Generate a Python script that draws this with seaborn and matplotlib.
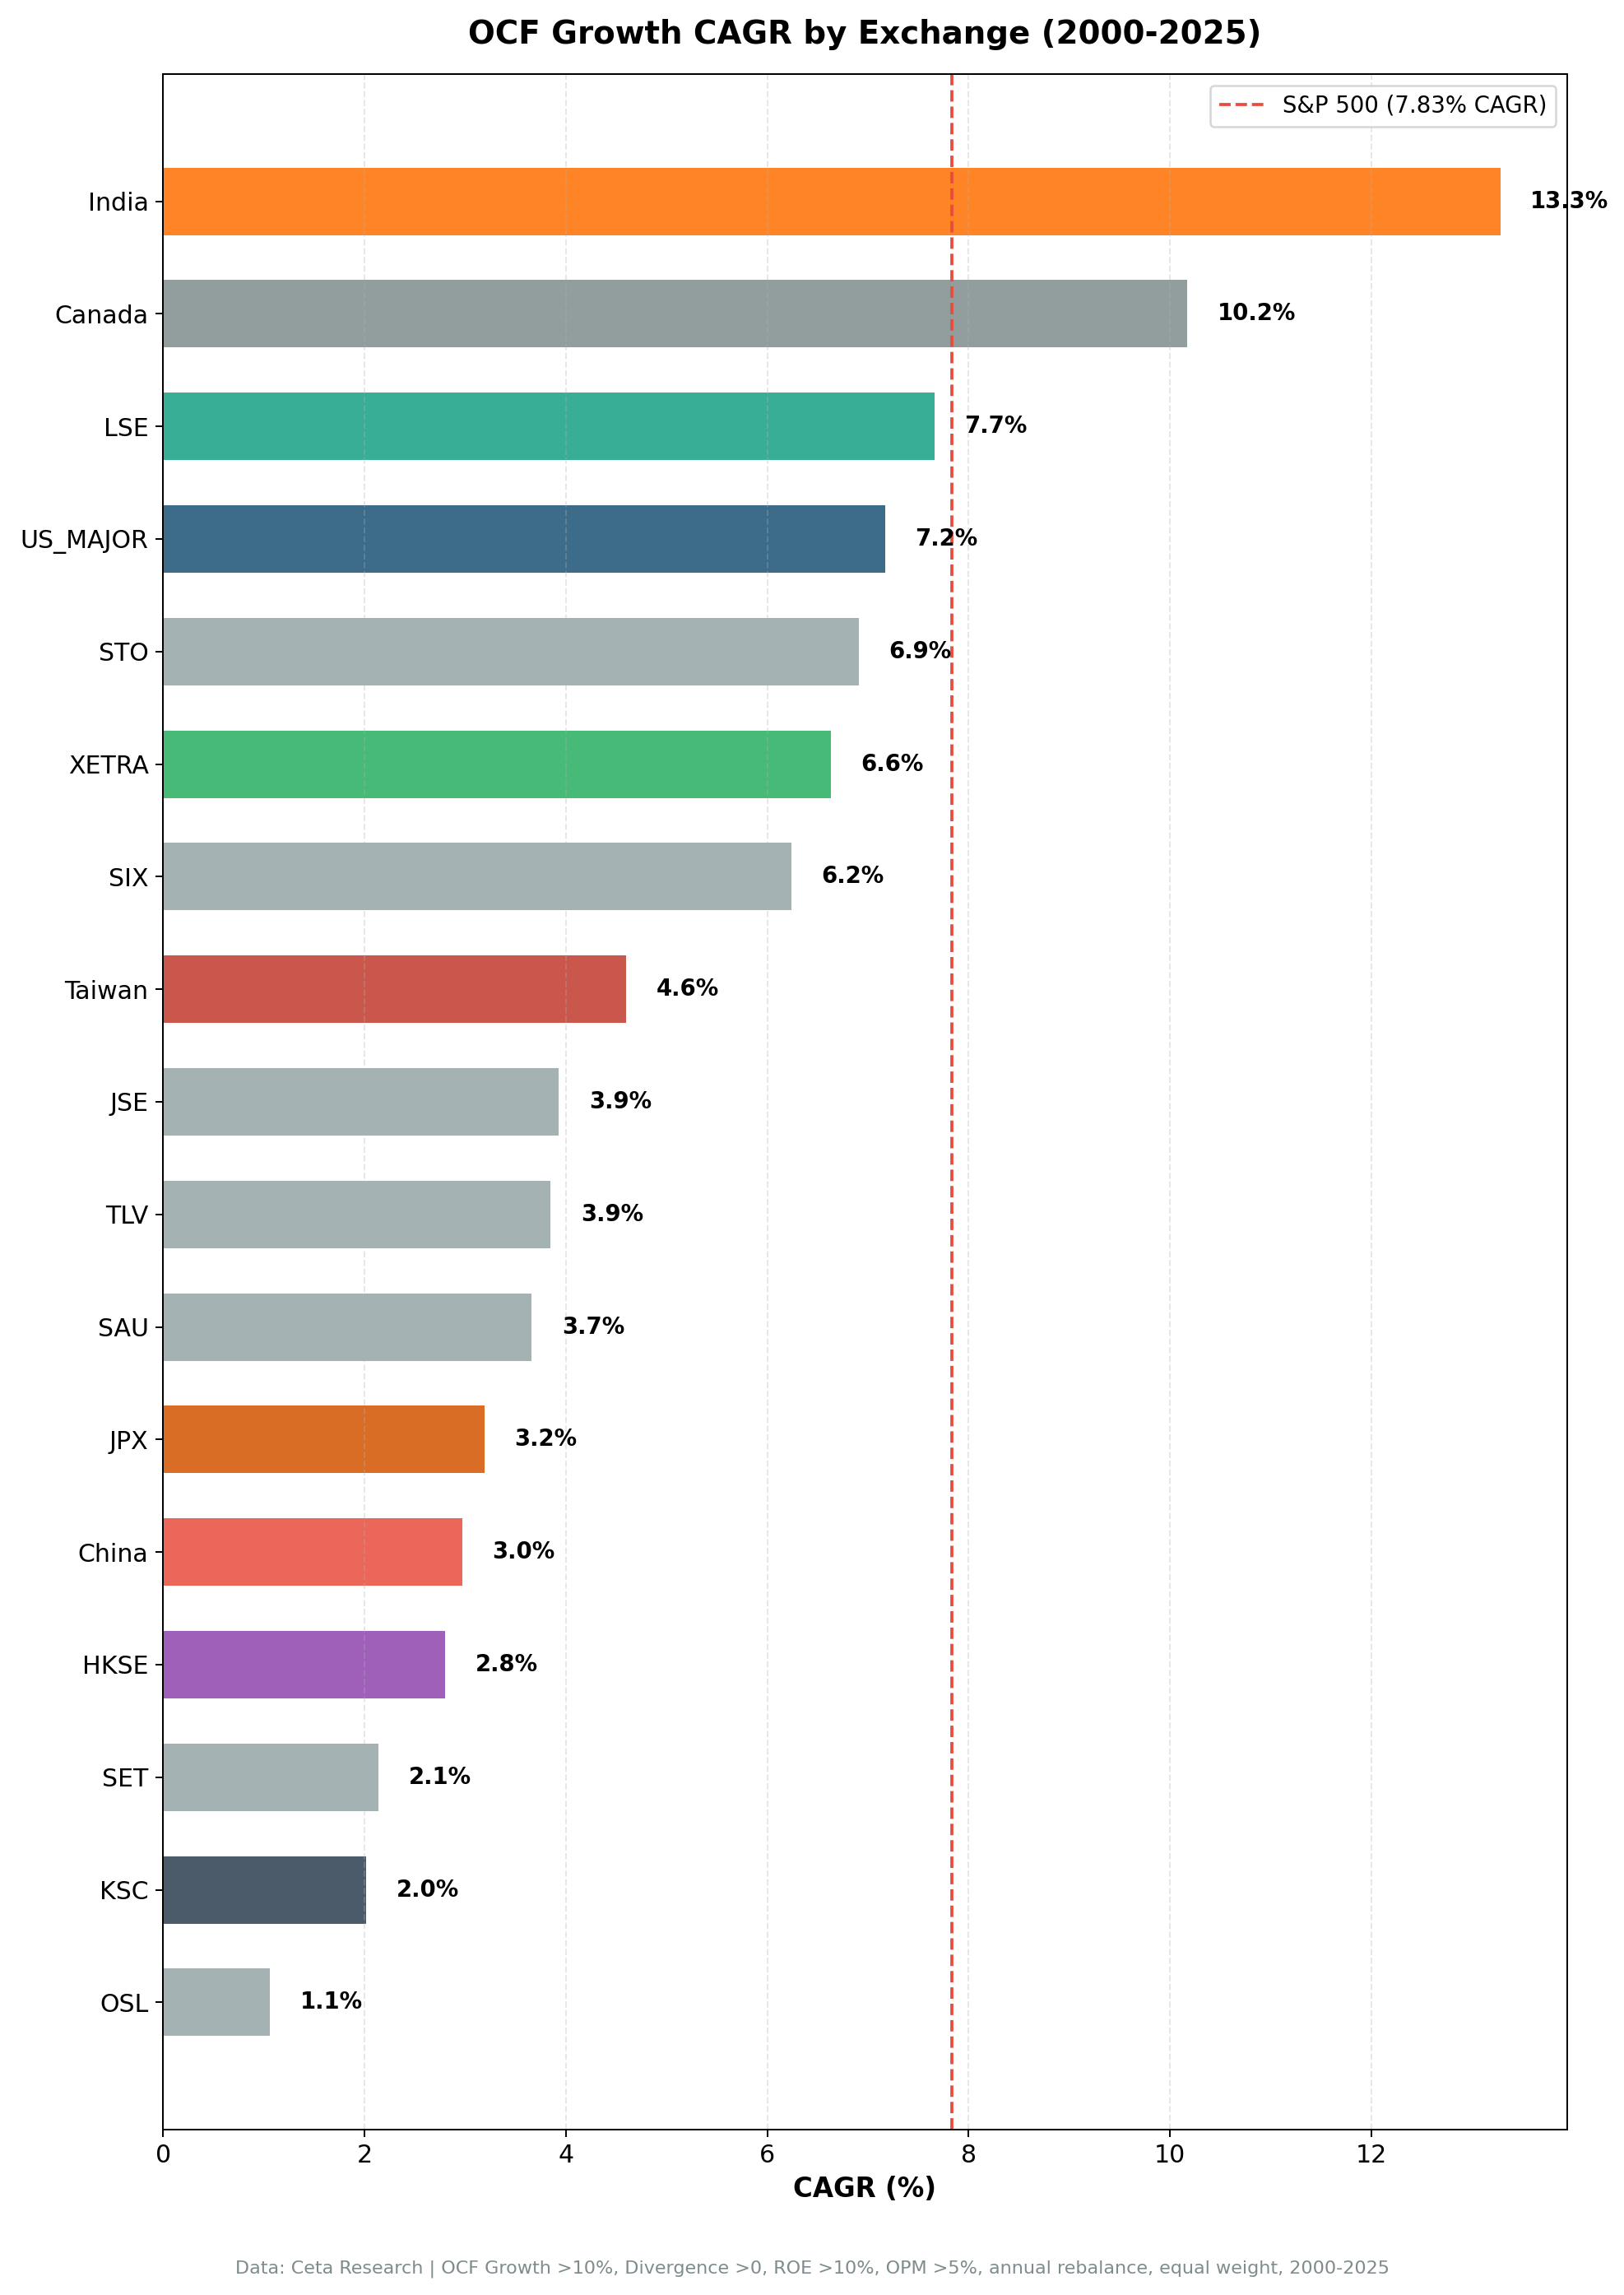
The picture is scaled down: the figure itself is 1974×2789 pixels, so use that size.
import pandas as pd
import seaborn as sns
import matplotlib.pyplot as plt

exchanges = ['India', 'Canada', 'LSE', 'US_MAJOR', 'STO', 'XETRA', 'SIX', 'Taiwan',
             'JSE', 'TLV', 'SAU', 'JPX', 'China', 'HKSE', 'SET', 'KSC', 'OSL']
cagr = [13.28, 10.17, 7.66, 7.17, 6.91, 6.63, 6.24, 4.60,
        3.93, 3.85, 3.66, 3.19, 2.97, 2.80, 2.14, 2.02, 1.06]
bar_colors = ['#ff6f00', '#7f8c8d', '#16a085', '#1a5276', '#95a5a6', '#27ae60', '#95a5a6', '#c0392b',
              '#95a5a6', '#95a5a6', '#95a5a6', '#d35400', '#e74c3c', '#8e44ad', '#95a5a6', '#2c3e50', '#95a5a6']
sp500_cagr = 7.83

df = pd.DataFrame({'exchange': exchanges, 'cagr': cagr})
palette = dict(zip(exchanges, bar_colors))

fig, ax = plt.subplots(figsize=(1975 / 180, 2789 / 180), dpi=180)
fig.subplots_adjust(left=0.1003, right=0.9645, top=0.9677, bottom=0.0721)

sns.barplot(data=df, y='exchange', x='cagr', hue='exchange', palette=palette,
            order=exchanges, orient='h', width=0.6, alpha=0.85, legend=False,
            saturation=1, ax=ax)

for i, v in enumerate(cagr):
    ax.text(v + 0.3, i, f'{v:.1f}%', va='center', ha='left', fontsize=11, fontweight='bold')

ax.axvline(sp500_cagr, color='#e74c3c', linestyle='--', linewidth=1.5,
           label=f'S&P 500 ({sp500_cagr:.2f}% CAGR)')
ax.legend(loc='upper right', fontsize=11)

ax.set_xlim(0, max(cagr) * 1.05)
ax.set_ylim(len(exchanges) - 1 + 1.13, -1.13)
ax.grid(axis='x', linestyle='--', alpha=0.3)
ax.set_ylabel('')
ax.set_xlabel('CAGR (%)', fontsize=13, fontweight='bold')
ax.tick_params(axis='both', labelsize=12)
ax.set_title('OCF Growth CAGR by Exchange (2000-2025)', fontsize=15.5, fontweight='bold', pad=15)

fig.text(0.5, 0.0115, 'Data: Ceta Research | OCF Growth >10%, Divergence >0, ROE >10%, OPM >5%, '
         'annual rebalance, equal weight, 2000-2025', ha='center', va='center',
         fontsize=8.9, color='#7f8c8d')

plt.savefig('out.png', dpi=180)
